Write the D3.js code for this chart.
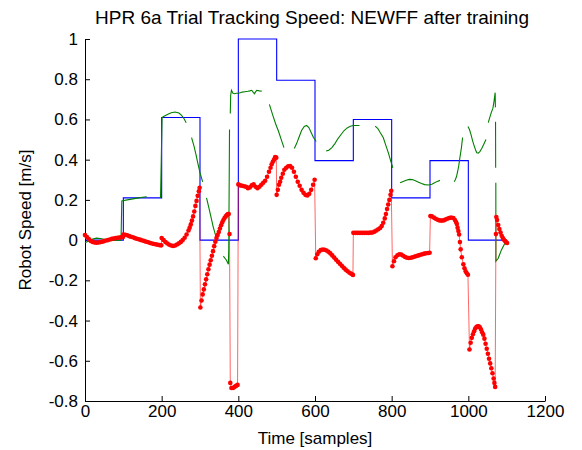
<!DOCTYPE html>
<html><head><meta charset="utf-8">
<script src="https://cdn.jsdelivr.net/npm/d3@7/dist/d3.min.js"></script>
<style>
body{margin:0;background:#fff;}
svg{font-family:"Liberation Sans",Arial,Helvetica,sans-serif;}
</style></head>
<body><svg id="c" width="582" height="450"></svg>
<script>
const title = "HPR 6a Trial Tracking Speed: NEWFF after training";
const xLabel = "Time [samples]";
const yLabel = "Robot Speed [m/s]";
const xTicks = [0,200,400,600,800,1000,1200];
const yTicks = [-0.8,-0.6,-0.4,-0.2,0,0.2,0.4,0.6,0.8,1];

// reference (blue, step)
const blueT = [0,100,200,300,400,500,600,700,800,900,1000,1100];
const blueV = [0,0.21,0.61,0,1.0,0.795,0.395,0.6,0.21,0.395,0,0];

// robot speed (red, dotted markers)
const redT = [
0,5,10,15,20,25,30,35,40,45,50,55,60,65,70,75,80,85,90,95,99,
100,105,110,115,120,125,130,135,140,145,150,155,160,165,170,175,180,185,190,195,199,
200,205,210,215,220,225,230,235,240,245,250,255,260,265,270,273,276,279,282,285,288,291,294,297,299,
301,304,307,310,313,316,319,322,325,328,331,334,337,340,343,346,349,352,355,358,361,364,367,370,373,375,377,
379,382,386,390,394,398,
400,405,410,415,420,425,430,435,440,445,450,455,460,465,470,475,480,484,487,490,493,496,499,
500,503,506,509,512,516,520,525,530,535,540,545,550,555,560,565,570,575,580,585,590,595,599,
602,606,610,615,620,625,630,635,640,645,650,655,660,665,670,675,680,685,690,695,699,
700,705,710,715,720,725,730,735,740,745,750,755,760,765,770,774,778,782,785,788,791,794,797,799,
802,806,810,815,820,825,830,835,840,845,850,855,860,865,870,875,880,885,890,895,899,
901,905,910,915,920,925,930,935,940,945,950,955,961,965,968,970,972,974,976,978,980,983,987,990,993,996,999,
1003,1006,1009,1012,1015,1018,1021,1024,1027,1030,1033,1036,1039,1042,1045,1048,1051,1054,1057,1060,1063,1066,1068,1070,
1072,1073,1075,1078,1081,1084,1087,1090,1093,1096,1099,1101];
const redV = [
0.025,0.015,0.005,-0.004,-0.009,-0.012,-0.013,-0.012,-0.01,-0.008,-0.005,-0.002,0.0,0.003,0.006,0.008,0.01,0.012,0.013,0.015,0.015,
0.028,0.027,0.024,0.02,0.017,0.014,0.01,0.007,0.004,0.001,-0.002,-0.005,-0.008,-0.011,-0.014,-0.017,-0.019,-0.021,-0.023,-0.025,-0.026,
0.01,0.0,-0.01,-0.017,-0.023,-0.027,-0.029,-0.027,-0.022,-0.016,-0.009,0.0,0.012,0.028,0.048,0.062,0.078,0.097,0.118,0.142,0.17,0.195,0.22,0.243,0.26,
-0.335,-0.3,-0.27,-0.245,-0.22,-0.195,-0.17,-0.145,-0.122,-0.1,-0.078,-0.055,-0.03,-0.008,0.01,0.025,0.04,0.058,0.074,0.088,0.1,0.11,0.118,0.124,0.13,0.13,0.03,
-0.71,-0.735,-0.735,-0.73,-0.725,-0.72,
0.277,0.272,0.27,0.268,0.265,0.258,0.262,0.272,0.277,0.265,0.258,0.265,0.275,0.285,0.295,0.315,0.34,0.36,0.377,0.39,0.4,0.413,0.41,
0.225,0.25,0.275,0.29,0.31,0.33,0.35,0.36,0.367,0.368,0.36,0.34,0.315,0.29,0.27,0.25,0.235,0.225,0.222,0.23,0.25,0.275,0.3,
-0.09,-0.07,-0.058,-0.05,-0.047,-0.048,-0.052,-0.058,-0.066,-0.076,-0.087,-0.098,-0.108,-0.118,-0.128,-0.138,-0.147,-0.155,-0.162,-0.168,-0.173,
0.036,0.036,0.036,0.036,0.036,0.036,0.036,0.036,0.036,0.037,0.038,0.042,0.048,0.054,0.06,0.07,0.086,0.108,0.13,0.155,0.177,0.2,0.225,0.245,
-0.13,-0.105,-0.085,-0.075,-0.07,-0.072,-0.078,-0.084,-0.088,-0.089,-0.088,-0.085,-0.082,-0.079,-0.076,-0.073,-0.07,-0.067,-0.065,-0.064,-0.063,
0.12,0.118,0.112,0.106,0.101,0.098,0.097,0.098,0.102,0.106,0.11,0.112,0.11,0.1,0.09,0.08,0.062,0.045,0.028,-0.01,-0.046,-0.085,-0.12,-0.14,-0.155,-0.165,-0.172,
-0.544,-0.51,-0.486,-0.468,-0.453,-0.44,-0.432,-0.428,-0.428,-0.433,-0.445,-0.458,-0.47,-0.49,-0.515,-0.54,-0.565,-0.59,-0.613,-0.637,-0.662,-0.688,-0.71,-0.73,
0.03,0.115,0.1,0.075,0.055,0.038,0.022,0.01,0.002,-0.005,-0.011,-0.014];

// tracking speed (green, with gaps)
const greenT = [
0,10,20,30,40,50,60,70,80,90,94,96,110,125,140,150,161,180,
197,199,201,205,215,225,235,245,252,258,264,271,
278,284,289,294,300,307,312,
317,322,328,334,339,344,352,
361,365,369,374,375,376,377,378,379,380,382,386,390,395,400,405,410,417,425,430,435,439,442,445,448,455,461,470,
481,490,497,505,512,519,532,
546,552,558,565,572,578,584,590,596,603,615,
629,636,644,652,660,668,676,684,692,700,708,716,737,
757,764,770,778,785,792,798,803,812,
822,830,838,846,854,862,870,878,886,896,905,912,919,926,945,
963,966,969,972,975,978,982,985,992,
999,1003,1007,1011,1015,1019,1022,1026,1030,1035,1040,1046,1049,
1052,1056,1060,1064,1067,1069,1070,1070.6,1070.8,1071,1071.3,1071.5,1071.7,1072,1078,1082,1086,1090,1094,1098];
const greenV = [
-0.013,-0.005,0.005,0.01,0.008,0.004,0.0,-0.002,-0.002,0.0,0.0,0.195,0.2,0.205,0.21,0.213,0.216,null,
0.21,0.4,0.61,0.615,0.625,0.633,0.637,0.632,0.62,0.605,0.584,null,
0.51,0.47,0.43,0.385,0.335,0.29,null,
0.21,0.17,0.12,0.07,0.035,0.0,null,
-0.08,-0.09,-0.1,-0.12,-0.05,0.25,0.55,null,0.63,0.72,0.745,0.73,0.728,0.73,0.73,0.733,0.736,0.738,0.74,0.742,0.745,0.735,0.728,0.737,0.745,0.742,0.741,null,
0.675,0.62,0.58,0.54,0.5,0.46,null,
0.456,0.48,0.51,0.545,0.565,0.57,0.56,0.535,0.51,0.49,null,
0.443,0.447,0.46,0.48,0.505,0.525,0.545,0.558,0.566,0.57,0.57,0.57,null,
0.567,0.555,0.535,0.51,0.47,0.43,0.39,0.36,null,
0.285,0.292,0.298,0.302,0.301,0.295,0.288,0.281,0.276,0.274,0.278,0.285,0.292,0.297,null,
0.29,0.3,0.315,0.34,0.37,0.41,0.46,0.51,null,
0.565,0.55,0.525,0.495,0.47,0.448,0.434,0.432,0.44,0.455,0.475,0.5,null,
0.584,0.61,0.635,0.655,0.69,0.72,0.733,0.66,null,0.588,0.36,null,0.285,-0.105,-0.09,-0.07,-0.05,-0.035,-0.02,-0.005];

const svg = d3.select("#c");
const m = {l:85, t:39, r:37, b:49};
const W = 582 - m.l - m.r, H = 450 - m.t - m.b;
const x = d3.scaleLinear().domain([0,1200]).range([m.l, m.l+W]);
const y = d3.scaleLinear().domain([-0.8,1]).range([m.t+H, m.t]);
const fmt = d => String(+(+d).toFixed(1));

// axes
const gx = svg.append("g").attr("transform",`translate(0,${m.t+H})`)
  .call(d3.axisBottom(x).tickValues(xTicks).tickFormat(fmt).tickSizeInner(-5).tickSizeOuter(0).tickPadding(4));
const gy = svg.append("g").attr("transform",`translate(${m.l},0)`)
  .call(d3.axisLeft(y).tickValues(yTicks).tickFormat(fmt).tickSizeInner(-5).tickSizeOuter(0).tickPadding(7));
[gx,gy].forEach(g=>{
  g.selectAll("text").attr("font-size",17).attr("fill","#000").attr("font-family","Liberation Sans, Arial, sans-serif");
  g.selectAll("line").attr("stroke","#000");
  g.select(".domain").attr("stroke","#000");
});

// blue reference
const blueData = blueT.map((t,i)=>[t,blueV[i]]);
svg.append("path").datum(blueData)
  .attr("d", d3.line().x(d=>x(d[0])).y(d=>y(d[1])).curve(d3.curveStepAfter))
  .attr("fill","none").attr("stroke","#0000ff").attr("stroke-width",1.1);

// green tracking
const greenData = greenT.map((t,i)=>[t,greenV[i]]);
svg.append("path").datum(greenData)
  .attr("d", d3.line().defined(d=>d[1]!==null).x(d=>x(d[0])).y(d=>y(d[1])))
  .attr("fill","none").attr("stroke","#008000").attr("stroke-width",1.1);

// red robot speed
const redData = redT.map((t,i)=>[t,redV[i]]);
svg.append("path").datum(redData)
  .attr("d", d3.line().x(d=>x(d[0])).y(d=>y(d[1])))
  .attr("fill","none").attr("stroke","#ff0000").attr("stroke-width",1).attr("stroke-opacity",0.6);
svg.append("g").selectAll("circle").data(redData).join("circle")
  .attr("cx",d=>x(d[0])).attr("cy",d=>y(d[1])).attr("r",2.3)
  .attr("fill","#ff0000");

// texts
svg.append("text").attr("x", 312).attr("y", 24).attr("text-anchor","middle")
  .attr("font-size",19).text(title);
svg.append("text").attr("x", m.l + W/2).attr("y", 444).attr("text-anchor","middle")
  .attr("font-size",17).text(xLabel);
svg.append("text").attr("transform",`translate(31,${m.t+H/2}) rotate(-90)`).attr("text-anchor","middle")
  .attr("font-size",17).text(yLabel);
</script></body></html>
